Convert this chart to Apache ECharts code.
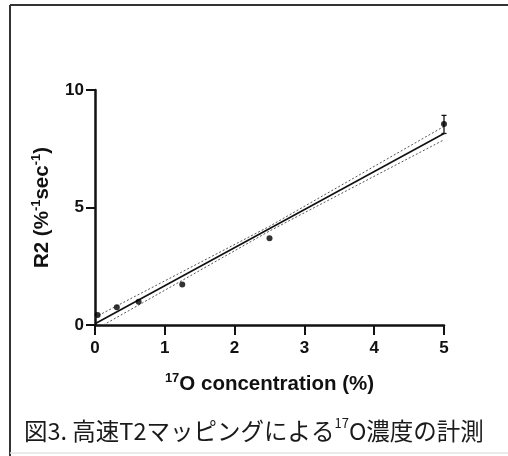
<!DOCTYPE html>
<html>
<head>
<meta charset="utf-8">
<script src="https://cdn.jsdelivr.net/npm/echarts@6/dist/echarts.min.js"></script>
<style>
  html, body { margin: 0; padding: 0; background: #fff; }
  #chart { width: 508px; height: 456px; }
</style>
</head>
<body>
<div id="chart"></div>
<script>
// 測定点 (17O 濃度 %, R2)
const concentrations = [0.038, 0.3125, 0.625, 1.25, 2.5, 5];
const r2Values = [0.43, 0.76, 0.99, 1.72, 3.69, 8.55];

// 誤差棒 (5% のみ見える)
const errX = [5];
const errLow = [8.15];
const errHigh = [8.92];

// 回帰直線
const fitX = [0, 5];
const fitY = [0.05, 8.15];

// 95% 信頼帯
const upperX = [0, 2.5, 5];
const upperY = [0.33, 4.2, 8.45];
const lowerX = [0.12, 2.5, 5];
const lowerY = [0, 4.0, 7.88];

// 軸目盛
const xTicks = [0, 1, 2, 3, 4, 5];
const yTicks = [0, 5, 10];

const kFont = '"Liberation Sans", Arial, sans-serif';
const kCjkFont = '"Noto Sans CJK JP", sans-serif';

const zip = (xs, ys) => xs.map((x, i) => [x, ys[i]]);

window.onload = function () {
  const chart = echarts.init(document.getElementById('chart'), null, { renderer: 'canvas' });

  const supStyle = {
    fontFamily: kFont,
    fontWeight: 'bold',
    fontSize: 13,
    verticalAlign: 'top',
    lineHeight: 24,
    color: '#111',
  };

  const option = {
    backgroundColor: '#fff',
    animation: false,
    title: {
      text: '図3. 高速T2マッピングによる{sup|17}O濃度の計測',
      left: 19,
      top: 412,
      textStyle: {
        fontFamily: kCjkFont,
        fontWeight: 'normal',
        fontSize: 23.5,
        color: '#1a1a1a',
        lineHeight: 28,
        rich: {
          sup: {
            fontFamily: kCjkFont,
            fontSize: 13,
            color: '#1a1a1a',
            verticalAlign: 'top',
            lineHeight: 28,
          },
        },
      },
    },
    grid: {
      left: 95,
      right: 64,
      top: 90,
      bottom: 131,
    },
    xAxis: {
      type: 'value',
      min: xTicks[0],
      max: xTicks[xTicks.length - 1],
      interval: 1,
      name: '{sup|17}O concentration (%)',
      nameLocation: 'middle',
      nameGap: 47,
      nameTextStyle: {
        fontFamily: kFont,
        fontWeight: 'bold',
        fontSize: 20.5,
        color: '#111',
        lineHeight: 24,
        rich: { sup: supStyle },
      },
      axisLine: { show: true, onZero: false, lineStyle: { color: '#111', width: 2.5 } },
      axisTick: { show: true, length: 10, lineStyle: { color: '#111', width: 2 } },
      axisLabel: {
        margin: 15,
        fontFamily: kFont,
        fontWeight: 'bold',
        fontSize: 17,
        color: '#111',
      },
      splitLine: { show: false },
    },
    yAxis: {
      type: 'value',
      min: yTicks[0],
      max: yTicks[yTicks.length - 1],
      interval: 5,
      name: 'R2 (%{sup|-1}sec{sup|-1})',
      nameLocation: 'middle',
      nameRotate: 90,
      nameGap: 40,
      nameTextStyle: {
        fontFamily: kFont,
        fontWeight: 'bold',
        fontSize: 20.5,
        color: '#111',
        lineHeight: 24,
        rich: { sup: supStyle },
      },
      axisLine: { show: true, onZero: false, lineStyle: { color: '#111', width: 2.5 } },
      axisTick: { show: true, length: 9, lineStyle: { color: '#111', width: 2 } },
      axisLabel: {
        margin: 11,
        fontFamily: kFont,
        fontWeight: 'bold',
        fontSize: 17,
        color: '#111',
      },
      splitLine: { show: false },
    },
    graphic: [
      // 外枠
      { type: 'line', shape: { x1: 10, y1: 5, x2: 508, y2: 5 }, style: { stroke: '#333', lineWidth: 2 } },
      { type: 'line', shape: { x1: 10, y1: 5, x2: 10, y2: 456 }, style: { stroke: '#333', lineWidth: 2 } },
      { type: 'line', shape: { x1: 10, y1: 453, x2: 508, y2: 453 }, style: { stroke: '#e4e4e4', lineWidth: 1.5 } },
    ],
    series: [
      {
        name: 'upper',
        type: 'line',
        data: zip(upperX, upperY),
        symbol: 'none',
        lineStyle: { color: '#555', width: 1, type: [2, 2] },
        z: 2,
      },
      {
        name: 'lower',
        type: 'line',
        data: zip(lowerX, lowerY),
        symbol: 'none',
        lineStyle: { color: '#555', width: 1, type: [2, 2] },
        z: 2,
      },
      {
        name: 'fit',
        type: 'line',
        data: zip(fitX, fitY),
        symbol: 'none',
        lineStyle: { color: '#111', width: 1.6 },
        z: 3,
      },
      {
        name: 'error',
        type: 'custom',
        data: errX.map((x, i) => [x, errLow[i], errHigh[i]]),
        renderItem: (params, api) => {
          const x = api.value(0);
          const lo = api.coord([x, api.value(1)]);
          const hi = api.coord([x, api.value(2)]);
          const w = 2.5;
          const style = { stroke: '#111', lineWidth: 1.3 };
          return {
            type: 'group',
            children: [
              { type: 'line', shape: { x1: lo[0], y1: lo[1], x2: hi[0], y2: hi[1] }, style },
              { type: 'line', shape: { x1: lo[0] - w, y1: lo[1], x2: lo[0] + w, y2: lo[1] }, style },
              { type: 'line', shape: { x1: hi[0] - w, y1: hi[1], x2: hi[0] + w, y2: hi[1] }, style },
            ],
          };
        },
        z: 4,
      },
      {
        name: 'R2',
        type: 'scatter',
        data: zip(concentrations, r2Values),
        symbol: 'circle',
        symbolSize: 6,
        itemStyle: { color: '#000' },
        z: 5,
      },
    ],
  };

  chart.setOption(option);
};
</script>
</body>
</html>
